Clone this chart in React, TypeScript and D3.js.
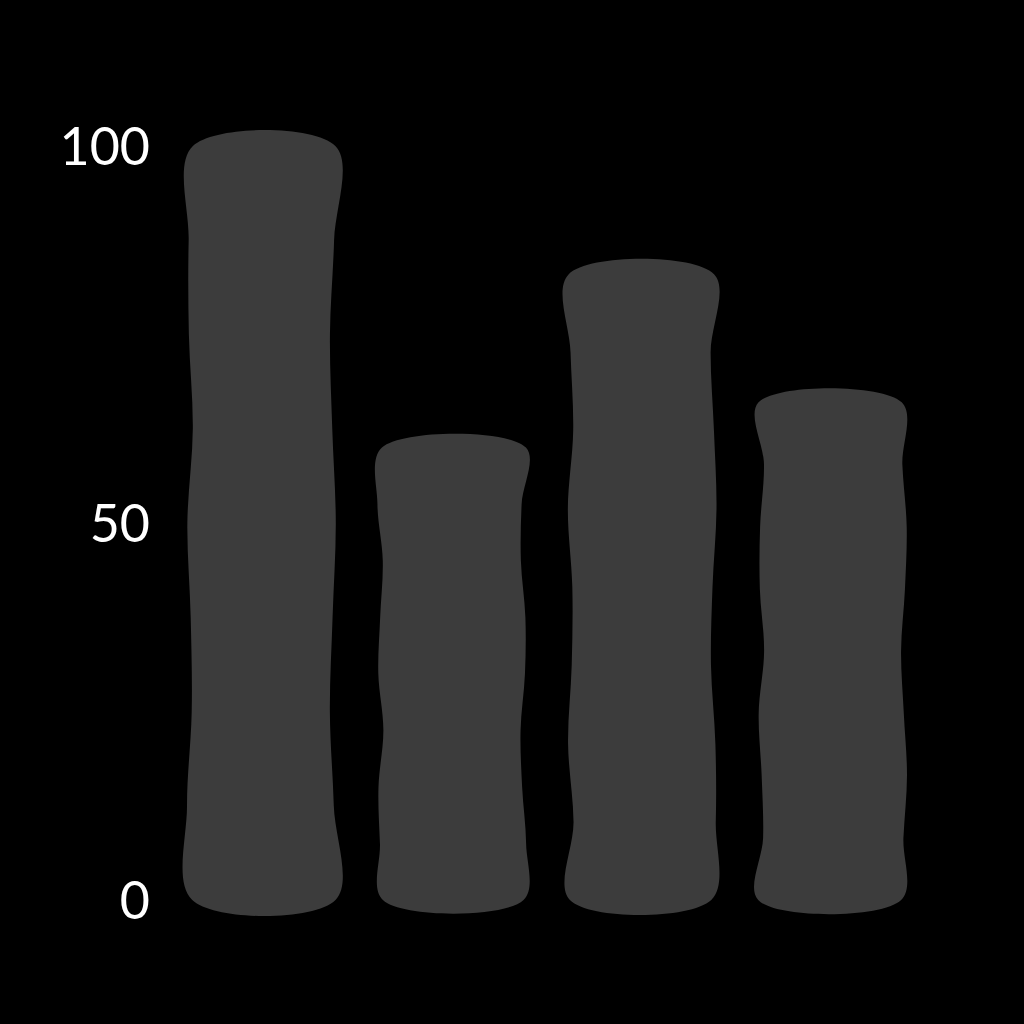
import * as d3 from 'd3';

const categories = ['A', 'B', 'C', 'D'];
const values = [100, 60, 83, 66];
const ticks = [0, 50, 100];

const W = 1024, H = 1024;
const M = { t: 146, r: 120, b: 124, l: 190 };

function wobblyBar(x0: number, x1: number, y0: number, y1: number, seed: number) {
  // slightly hand-drawn outline, deterministic
  const pts: [number, number][] = [];
  const n = 8;
  for (let i = 0; i <= n; i++) {
    const y = y0 + ((y1 - y0) * i) / n;
    pts.push([x1 + 3 * Math.sin(i * 1.7 + seed), y]);
  }
  for (let i = n; i >= 0; i--) {
    const y = y0 + ((y1 - y0) * i) / n;
    pts.push([x0 + 3 * Math.sin(i * 2.3 + seed * 1.3), y]);
  }
  return d3.line().curve(d3.curveCatmullRomClosed)(pts) ?? '';
}

export default function App() {
  const x = d3.scaleBand().domain(categories).range([M.l, W - M.r]).paddingInner(0.25).paddingOuter(0);
  const y = d3.scaleLinear().domain([0, 100]).range([H - M.b, M.t]);
  return (
    <svg width={W} height={H} style={{ position: 'fixed', left: 0, top: 0, background: '#000' }}>
      <rect width={W} height={H} fill="#000" />
      {categories.map((c, i) => (
        <path key={c} d={wobblyBar(x(c)!, x(c)! + x.bandwidth(), y(values[i]), y(0), i + 1)} fill="#3c3c3c" />
      ))}
      {ticks.map(t => (
        <text key={t} x={150} y={y(t)} dy="0.36em" textAnchor="end" fill="#fff"
          fontSize={52} fontFamily="'Comic Sans MS', Lato, sans-serif">{t}</text>
      ))}
    </svg>
  );
}
